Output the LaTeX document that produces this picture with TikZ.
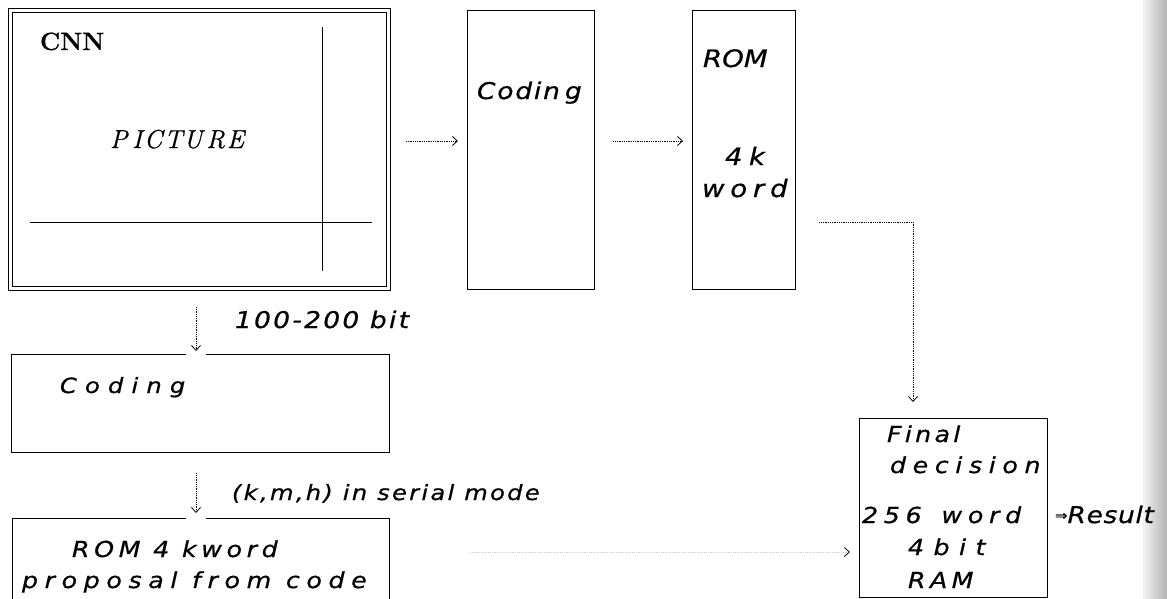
\documentclass[tikz,border=0pt]{standalone}
\usepackage{fontspec}
\usetikzlibrary{arrows.meta,calc}
\newfontfamily\djv{DejaVu Sans}[FakeStretch=1.15, FakeBold=0.7]
\newfontfamily\lmheavy{Latin Modern Roman}[FakeBold=0.8]
\newcommand\sptxt[3]{{\djv\itshape\fontsize{#2}{#2}\selectfont\addfontfeature{LetterSpace=#1}#3}}
\begin{document}
\begin{tikzpicture}[x=1pt,y=-1pt,
  box/.style={draw, line width=1.1pt, anchor=north west, inner sep=0pt},
  lbl/.style={anchor=base west, inner sep=0pt, outer sep=0pt},
  conn/.style={densely dotted, line width=0.8pt, -{Straight Barb[length=5pt,width=9pt]}},
]
\useasboundingbox (0,0) rectangle (1167,598);
\fill[white] (0,0) rectangle (1167,598);
% scanned page edge
\shade[left color=gray!10, right color=gray!60] (1143,0) rectangle (1167,598);

% CNN picture frame
\node[draw, double, double distance=2.4pt, line width=0.9pt, minimum width=378, minimum height=278, anchor=north west, inner sep=0pt] (cnn) at (10,10) {};
\draw[line width=1pt] (30,222) -- (372,222);
\draw[line width=1pt] (322,27) -- (322,271);
\node[lbl] (cnnt) at (40,50) {\lmheavy\fontsize{25}{25}\selectfont\bfseries CNN};
\node[lbl] (pict) at (110,148) {\lmheavy\fontsize{26}{26}\selectfont\itshape P\kern5pt I\kern2pt C\kern2pt T\kern1pt U\kern4pt R\kern2pt E};

% top row boxes
\node[box, minimum width=127, minimum height=279] (coding1) at (467,10) {};
\node[box, minimum width=103, minimum height=279] (rom) at (692,10) {};
\node[lbl] (codt1) at (477,99) {\sptxt{8}{23}{Codin\kern5pt g}};
\node[lbl] (romt) at (703,67) {\sptxt{0}{24}{ROM}};
\node[lbl] (fourk) at (725,165) {\sptxt{27}{24}{4k}};
\node[lbl] (wordt) at (702,197) {\sptxt{24}{24}{word}};

% left column boxes
\node[box, minimum width=378, minimum height=98] (coding2) at (11,354) {};
\node[box, minimum width=377, minimum height=90] (rom4) at (12,518) {};
\node[lbl] (codt2) at (60,393) {\sptxt{39}{21}{Coding}};
\node[lbl] (romt4) at (72,557) {\sptxt{21}{22}{ROM 4 kword}};
\node[lbl] (propt) at (22,588) {\sptxt{30}{22}{proposal from code}};

% final decision box
\node[box, minimum width=188, minimum height=179] (final) at (859,418) {};
\node[lbl] (fin1) at (887,442) {\sptxt{15}{22}{Final}};
\node[lbl] (fin2) at (890,473) {\sptxt{30}{22}{decision}};
\node[lbl] (fin3) at (862,523) {\sptxt{26}{22}{256\kern6pt\ word}};
\node[lbl] (fin4) at (908,555) {\sptxt{43}{22}{4bit}};
\node[lbl] (fin5) at (908,588) {\sptxt{20}{22}{RAM}};
\node[lbl] (res) at (1055,523) {\raisebox{3pt}{\djv\fontsize{13}{13}\selectfont ⇒}\sptxt{3}{23}{Result}};

% labels
\node[lbl] (bits) at (235,328) {\sptxt{10}{23}{100-200 bit}};
\node[lbl] (kmh) at (232,500) {\sptxt{11}{21}{(k,m,h) in serial mode}};

% gaps in box tops for the arrows
\fill[white] (186,351) rectangle (206,357);
\fill[white] (186,515) rectangle (206,521);

% connectors
\draw[conn, shorten <=17pt, shorten >=9pt] (cnn.east |- 0,141) -- (coding1.west |- 0,141);
\draw[conn, shorten <=18pt, shorten >=9pt] (coding1.east |- 0,141) -- (rom.west |- 0,141);
\draw[conn, shorten <=23pt, shorten >=16pt] (rom.east |- 0,222) -| (913,0 |- final.north);
\draw[conn, shorten <=18pt, shorten >=3pt] (196,0 |- cnn.south) -- (196,0 |- coding2.north);
\draw[conn, shorten <=20pt, shorten >=5pt] (196,0 |- coding2.south) -- (196,0 |- rom4.north);
\draw[densely dotted, gray!35, line width=0.8pt, shorten <=80pt, shorten >=9pt, -{Straight Barb[length=5pt,width=9pt,color=black]}] (rom4.east |- 0,552) -- (final.west |- 0,552);
\end{tikzpicture}
\end{document}
